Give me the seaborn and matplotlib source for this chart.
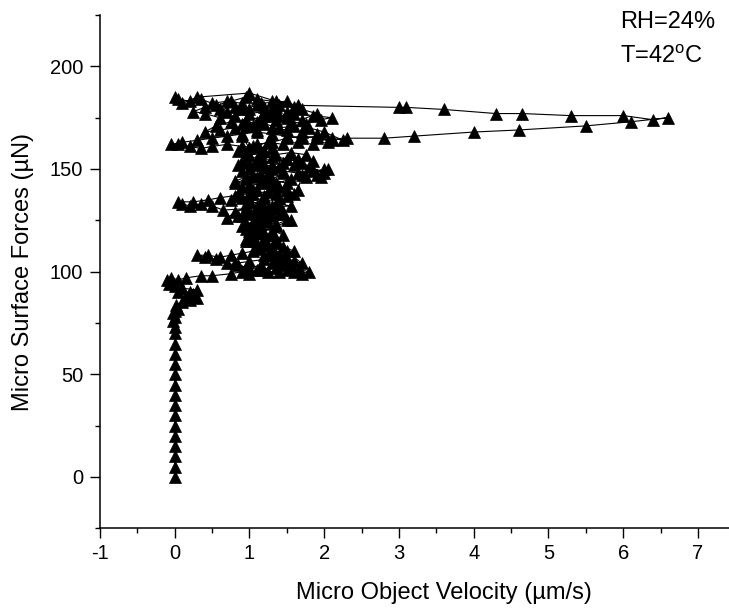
import matplotlib
matplotlib.use("Agg")
import matplotlib.pyplot as plt
from matplotlib.ticker import MultipleLocator
import seaborn as sns
import pandas as pd

# ---- data (in time order) ----
vel_rise = [0.0] * 15
force_rise = [0, 5, 10, 15, 20, 25, 30, 35, 40, 45, 50, 55, 60, 65, 70]

vel_low = [0.0, -0.02, 0.0, -0.03, 0.0, 0.05, 0.02, 0.1, 0.2, 0.3, 0.25, 0.15, 0.05, 0.2, 0.3,
           0.1, 0.0, -0.08, -0.1, -0.05, 0.05, 0.15]
force_low = [73, 76, 78, 80, 81, 82, 84, 85, 86, 87, 89, 88, 90, 90, 91,
             92, 93, 94, 96, 97, 96, 97]

vel_row100 = [0.35, 0.5, 0.75, 0.9, 1.0, 1.1, 1.25, 1.4, 1.5, 1.6, 1.7, 1.8, 1.65, 1.45, 1.3,
              1.15, 1.0, 0.85, 0.7, 0.55, 0.4, 0.3, 0.45, 0.6, 0.75, 0.9, 1.05, 1.2, 1.35, 1.5,
              1.6, 1.7]
force_row100 = [98, 98, 99, 100, 99, 101, 100, 100, 101, 100, 99, 100, 101, 103, 104,
                103, 102, 103, 104, 106, 107, 108, 108, 107, 108, 109, 110, 108, 107, 106,
                105, 104]

vel_mid = [1.5, 1.3, 1.1, 0.95, 1.05, 1.2, 1.35, 1.45, 1.3, 1.15, 1.0, 0.9, 1.05, 1.2, 1.35,
           1.5, 1.4, 1.2, 1.0, 0.85, 0.7, 0.8, 0.95, 1.1, 1.25, 1.4, 1.55]
force_mid = [110, 112, 113, 115, 117, 116, 114, 118, 120, 121, 120, 122, 124, 125, 123,
             125, 128, 129, 128, 127, 126, 129, 131, 132, 131, 133, 132]

vel_row133 = [0.65, 0.5, 0.35, 0.2, 0.1, 0.05, 0.25, 0.45, 0.6, 0.8, 1.0, 1.2, 1.4, 1.6, 1.5,
              1.3, 1.1, 0.9, 0.8, 0.95, 1.15, 1.35, 1.55, 1.75, 1.9, 2.05, 1.85, 1.65, 1.45, 1.25,
              1.05, 0.9, 0.85, 1.0, 1.2, 1.4, 1.6, 1.8, 2.0, 1.7, 1.5, 1.3, 1.1, 0.95, 0.85,
              1.0, 1.15, 1.3]
force_row133 = [130, 132, 133, 132, 133, 134, 134, 135, 136, 137, 138, 137, 136, 138, 140,
                141, 140, 141, 143, 145, 144, 143, 145, 146, 147, 150, 149, 148, 149, 148,
                147, 149, 152, 153, 152, 151, 152, 151, 148, 153, 155, 156, 155, 157, 159,
                160, 159, 160]

vel_row162 = [0.9, 0.7, 0.5, 0.35, 0.2, 0.05, -0.05, 0.1, 0.3, 0.5, 0.7, 0.9, 1.1, 1.3, 1.5,
              1.7, 1.9, 2.1, 2.25]
force_row162 = [161, 162, 161, 160, 161, 162, 162, 163, 164, 165, 166, 167, 168, 167, 166,
                165, 166, 165, 164]

vel_band = [2.0, 1.8, 1.6, 1.4, 1.2, 1.0, 0.8, 0.6, 0.4, 0.55, 0.75, 0.95, 1.15, 1.35, 1.55,
            1.75, 1.95, 2.1, 1.85, 1.6, 1.4, 1.2, 1.0, 0.8, 0.6, 0.4, 0.25, 0.4, 0.6, 0.8,
            1.0, 1.2, 1.4, 1.6]
force_band = [168, 170, 171, 170, 172, 171, 170, 169, 168, 171, 173, 174, 175, 174, 173,
              172, 174, 175, 176, 177, 176, 178, 177, 176, 175, 177, 178, 180, 179, 180,
              179, 180, 181, 180]

vel_top = [1.3, 1.1, 0.9, 0.7, 0.5, 0.35, 0.2, 0.05, 0.0, 0.1, 0.3, 1.0, 1.35, 1.65]
force_top = [183, 184, 182, 183, 182, 184, 183, 184, 185, 182, 185, 187, 183, 181]

vel_exc = [3.0, 3.1, 3.6, 4.3, 4.65, 5.3, 6.0, 6.4, 6.6, 6.1, 5.5, 4.6, 4.0, 3.2, 2.8,
           2.3, 2.1, 1.9, 1.7, 1.5, 1.3, 1.1, 1.2]
force_exc = [180, 180, 179, 177, 177, 176, 176, 174, 175, 173, 171, 169, 168, 166, 165,
             165, 164, 165, 166, 165, 163, 162, 159]

vel_down = [1.0, 0.9, 1.1, 1.3, 1.15, 0.95, 0.8, 1.0, 1.2, 1.4, 1.25, 1.05, 0.9, 0.75, 0.95,
            1.15, 1.3, 1.2, 1.0, 0.9, 1.1, 1.25, 1.1, 0.95, 1.1, 1.3, 1.2, 1.0, 1.15, 1.3,
            1.45, 1.6, 1.4, 1.2, 1.0, 0.8, 0.95, 1.15, 1.35, 1.55]
force_down = [157, 154, 152, 150, 147, 146, 144, 142, 143, 141, 139, 138, 136, 135, 133,
              134, 132, 130, 129, 127, 126, 124, 122, 121, 119, 118, 116, 115, 113, 111,
              112, 110, 108, 106, 105, 104, 102, 101, 102, 103]

vel_up = [1.4, 1.25, 1.1, 1.2, 1.35, 1.2, 1.05, 0.95, 1.15, 1.3, 1.45, 1.3, 1.1, 1.0, 1.2,
          1.35, 1.5, 1.65, 1.7, 1.95, 2.0, 1.5, 1.3, 1.1, 1.0, 1.2, 1.45, 1.65, 1.85, 1.75,
          1.55, 1.35, 1.15, 1.05, 1.25, 1.45, 1.65, 1.85, 2.05, 1.9, 1.7, 1.5, 1.3, 1.1,
          0.9, 1.1, 1.3, 1.5, 1.7, 1.9, 1.7, 1.5, 1.3, 1.1, 0.9, 0.7, 0.55, 0.75, 0.95,
          1.15, 1.5]
force_up = [105, 108, 111, 114, 116, 119, 118, 123, 126, 127, 129, 131, 130, 134, 136,
            138, 137, 140, 147, 146, 150, 143, 145, 146, 150, 151, 153, 155, 154, 157,
            158, 157, 158, 161, 163, 162, 163, 162, 163, 167, 168, 169, 170, 169,
            172, 173, 176, 175, 174, 177, 179, 178, 179, 181, 179, 178, 181, 183, 185,
            182, 183]

vel_fill = [1.35, 1.2, 1.05, 0.9, 1.0, 1.15, 1.3, 1.45, 1.25, 1.05, 0.85, 1.0, 1.2, 1.4,
            1.55, 1.35, 1.15, 0.95, 1.1, 1.3, 1.5, 1.25, 1.05, 1.2, 1.4]
force_fill = [180, 176, 171, 166, 160, 156, 152, 148, 144, 140, 138, 135, 131, 128,
              125, 122, 119, 116, 112, 109, 106, 113, 120, 128, 136]

x_ticks = [-1, 0, 1, 2, 3, 4, 5, 6, 7]
y_ticks = [0, 50, 100, 150, 200]
x_label = "Micro Object Velocity (µm/s)"
y_label = "Micro Surface Forces (µN)"
notes = ["RH=24%", "T=42$^{\\mathrm{o}}$C"]

velocity = (vel_rise + vel_low + vel_row100 + vel_mid + vel_row133 + vel_row162
            + vel_band + vel_top + vel_exc + vel_down + vel_up + vel_fill)
force = (force_rise + force_low + force_row100 + force_mid + force_row133 + force_row162
         + force_band + force_top + force_exc + force_down + force_up + force_fill)
df = pd.DataFrame({"velocity": velocity, "force": force})

# ---- style ----
sns.set_style("ticks")
plt.rcParams["font.family"] = ["Liberation Sans", "DejaVu Sans"]
plt.rcParams["mathtext.fontset"] = "custom"
plt.rcParams["mathtext.rm"] = "Liberation Sans"
plt.rcParams["mathtext.it"] = "Liberation Sans:italic"
plt.rcParams["axes.unicode_minus"] = False
plt.rcParams["text.color"] = "black"
plt.rcParams["axes.labelcolor"] = "black"

fig = plt.figure(figsize=(7.29, 6.10), dpi=100)
ax = fig.add_axes([100 / 729, 1 - 528.3 / 610, 629 / 729, (528.3 - 15) / 610])

sns.lineplot(data=df, x="velocity", y="force", sort=False, estimator=None,
             color="black", linewidth=0.8, marker="^", markersize=8.5,
             markeredgecolor="black", markeredgewidth=0.5, ax=ax)

ax.set_xlim(-1, 7.415)
ax.set_ylim(-25, 225)
ax.set_xticks(x_ticks)
ax.set_yticks(y_ticks)
ax.xaxis.set_minor_locator(MultipleLocator(0.5))
ax.yaxis.set_minor_locator(MultipleLocator(25))
ax.tick_params(which="major", direction="out", length=7, width=1.0, labelsize=14.5,
               colors="black", labelcolor="black", pad=4)
ax.tick_params(which="minor", direction="out", length=3.8, width=1.0, colors="black")
ax.tick_params(axis="y", which="major", pad=5)

for side in ["top", "right"]:
    ax.spines[side].set_visible(False)
for side in ["left", "bottom"]:
    ax.spines[side].set_linewidth(1.1)
    ax.spines[side].set_color("black")

ax.set_xlabel(x_label, fontsize=17, color="black")
ax.set_ylabel(y_label, fontsize=17, color="black")
ax.xaxis.set_label_coords(0.547, -0.105)
ax.yaxis.set_label_coords(-0.105, 0.5)

fig.text(620 / 729, 1 - 28 / 610, notes[0], fontsize=17, ha="left", va="baseline",
         color="black")
fig.text(620 / 729, 1 - 63 / 610, notes[1], fontsize=17, ha="left", va="baseline",
         color="black")

fig.savefig("out.png", dpi=100)
